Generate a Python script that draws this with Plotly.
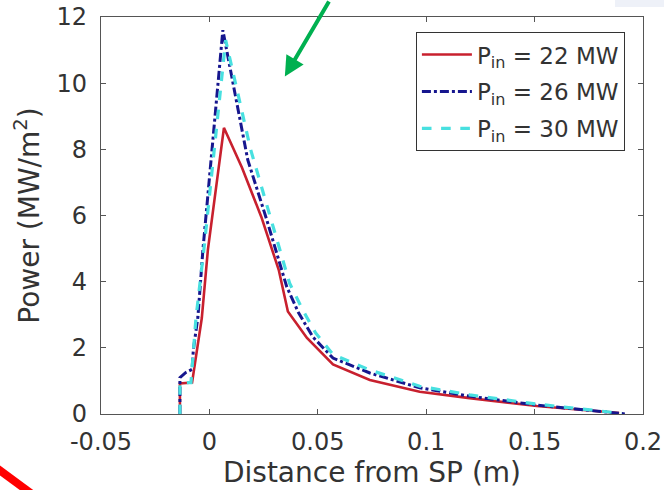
import plotly.graph_objects as go

# ---- data ----
x_22 = [-0.0136, -0.0136, -0.0080, -0.0072, -0.0056, -0.0035, -0.0007, 0.0067, 0.0150, 0.0240,
        0.0320, 0.0362, 0.0450, 0.0570, 0.0740, 0.0970, 0.1200, 0.1510, 0.1890]
p_22 = [0.0, 0.92, 0.95, 1.30, 1.90, 2.90, 4.96, 8.65, 7.45, 5.95,
        4.35, 3.10, 2.30, 1.50, 1.03, 0.67, 0.48, 0.24, 0.03]

x_26 = [-0.0136, -0.0136, -0.0110, -0.0080, -0.0074, -0.0053, -0.0030, 0.0062, 0.0177, 0.0265,
        0.0357, 0.0412, 0.0477, 0.0570, 0.0740, 0.0970, 0.1200, 0.1510, 0.1920]
p_26 = [0.0, 1.10, 1.25, 1.35, 1.95, 2.93, 4.96, 11.6, 7.68, 5.86,
        3.84, 3.05, 2.33, 1.69, 1.24, 0.79, 0.54, 0.27, 0.0]

x_30 = [-0.0136, -0.0136, -0.0085, -0.0078, -0.0062, -0.0025, 0.0075, 0.0190, 0.0280, 0.0370,
        0.0430, 0.0490, 0.0570, 0.0740, 0.0970, 0.1200, 0.1510, 0.1900]
p_30 = [0.0, 0.95, 0.95, 1.50, 2.90, 5.00, 11.3, 8.00, 6.00, 3.95,
        3.15, 2.45, 1.80, 1.33, 0.84, 0.58, 0.30, 0.02]

series_names = ["P<sub>in</sub> = 22 MW", "P<sub>in</sub> = 26 MW", "P<sub>in</sub> = 30 MW"]

x_tickvals = [-0.05, 0, 0.05, 0.1, 0.15, 0.2]
x_ticktext = ["-0.05", "0", "0.05", "0.1", "0.15", "0.2"]
y_tickvals = [0, 2, 4, 6, 8, 10, 12]
y_ticktext = ["0", "2", "4", "6", "8", "10", "12"]

FONT = "DejaVu Sans"
TXT = "#333333"
AX = "#555555"

fig = go.Figure()
fig.add_trace(go.Scatter(x=x_22, y=p_22, mode="lines", name=series_names[0], legendgroup="a",
                         line=dict(color="#c8202e", width=2.6, dash="solid")))
fig.add_trace(go.Scatter(x=x_26, y=p_26, mode="lines", name=series_names[1], legendgroup="b",
                         line=dict(color="#16168e", width=3, dash="dashdot")))
fig.add_trace(go.Scatter(x=x_30, y=p_30, mode="lines", name=series_names[2], legendgroup="c",
                         line=dict(color="#48e0e0", width=3.2, dash="dash")))

axis_common = dict(showline=True, linecolor=AX, linewidth=1.2, mirror="all",
                   ticks="inside", ticklen=5, tickcolor=AX, tickwidth=1,
                   showgrid=False, zeroline=False,
                   tickfont=dict(family=FONT, size=24, color=TXT))

fig.update_xaxes(range=[-0.05, 0.2], tickmode="array", tickvals=x_tickvals, ticktext=x_ticktext,
                 title=dict(text="Distance from SP (m)", font=dict(family=FONT, size=28, color=TXT),
                            standoff=4),
                 ticklabelstandoff=6, **axis_common)
fig.update_yaxes(range=[0, 12], tickmode="array", tickvals=y_tickvals, ticktext=y_ticktext,
                 title=dict(text="Power (MW/m<sup>2</sup>)", font=dict(family=FONT, size=28, color=TXT),
                            standoff=8),
                 ticklabelstandoff=8, **axis_common)

fig.update_layout(
    width=664, height=490,
    margin=dict(l=101, r=21, t=17, b=76, autoexpand=False),
    paper_bgcolor="white", plot_bgcolor="white",
    font=dict(family=FONT, color=TXT),
    legend=dict(x=0.581, y=0.962, xanchor="left", yanchor="top",
                bgcolor="white", bordercolor="#333333", borderwidth=1,
                font=dict(family=FONT, size=23, color=TXT),
                itemwidth=50, tracegroupgap=4),
    showlegend=True,
)

# decorations present in the reference screenshot
fig.add_annotation(x=0.0348, y=10.2, xref="x", yref="y", text="", showarrow=True,
                   arrowhead=2, arrowsize=1, arrowwidth=4, arrowcolor="#00b050",
                   ax=45, ay=-90, axref="pixel", ayref="pixel")
fig.add_shape(type="line", xref="paper", yref="paper",
              x0=(-10 - 101) / 542, y0=(414 - 463) / 397,
              x1=(40 - 101) / 542, y1=(414 - 500) / 397,
              line=dict(color="#ff0000", width=8))
fig.add_shape(type="rect", xref="paper", yref="paper", layer="below",
              x0=(615 - 101) / 542, y0=(414 - 7) / 397,
              x1=(670 - 101) / 542, y1=(414 + 5) / 397,
              line=dict(width=0), fillcolor="#eef1f8")

fig.write_html("out.html")
